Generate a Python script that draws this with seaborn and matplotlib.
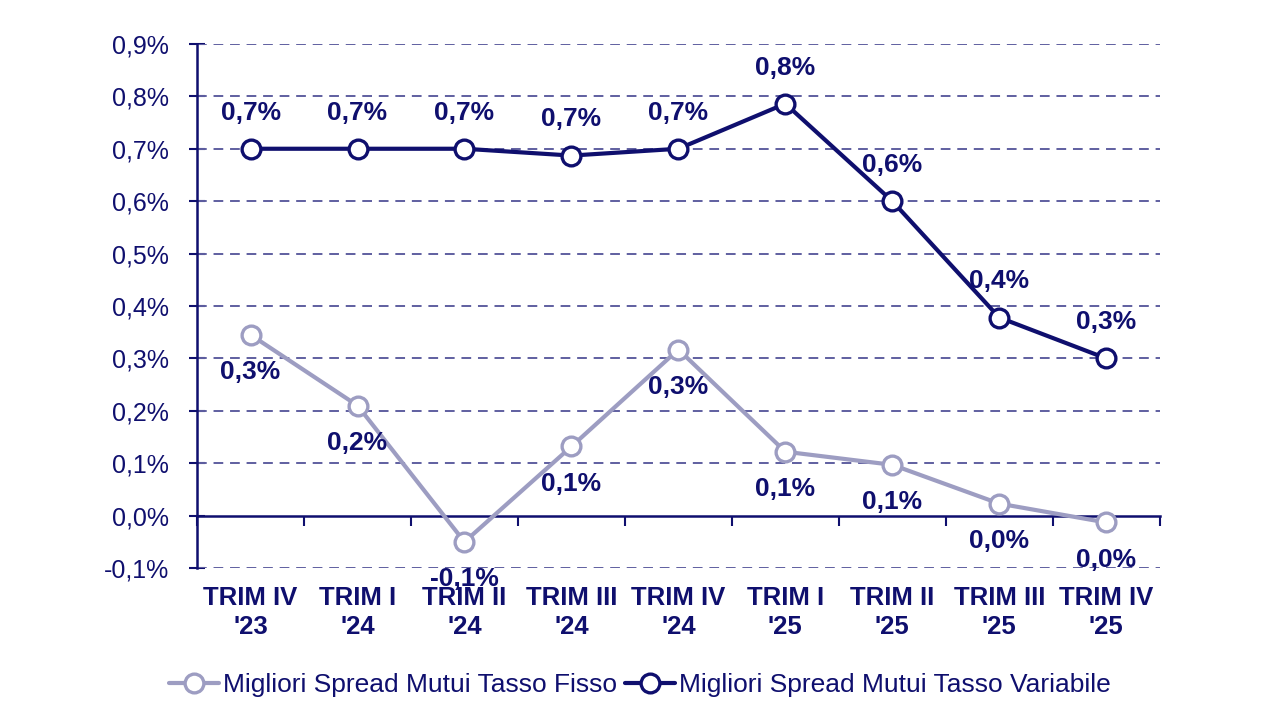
import pandas as pd
import matplotlib.pyplot as plt
import numpy as np
import seaborn as sns

# Trimestri e valori (%)
periodi = ["TRIM IV\n'23", "TRIM I\n'24", "TRIM II\n'24", "TRIM III\n'24", "TRIM IV\n'24",
           "TRIM I\n'25", "TRIM II\n'25", "TRIM III\n'25", "TRIM IV\n'25"]
spread_fisso = [0.345, 0.21, -0.05, 0.132, 0.317, 0.122, 0.097, 0.023, -0.013]
spread_variabile = [0.70, 0.70, 0.70, 0.687, 0.70, 0.786, 0.60, 0.378, 0.30]
nome_fisso = "Migliori Spread Mutui Tasso Fisso"
nome_variabile = "Migliori Spread Mutui Tasso Variabile"
y_ticks = [-0.1, 0.0, 0.1, 0.2, 0.3, 0.4, 0.5, 0.6, 0.7, 0.8, 0.9]

navy = "#0f0f6e"
lavanda = "#9d9dc2"
griglia = "#5f5fa0"

df = pd.DataFrame({
    "pos": list(range(len(periodi))) * 2,
    "valore": spread_fisso + spread_variabile,
    "serie": [nome_fisso] * len(periodi) + [nome_variabile] * len(periodi),
})

sns.set_theme(style="white")
plt.rcParams['font.family'] = ['Liberation Sans', 'DejaVu Sans']

fig = plt.figure(figsize=(12.8, 7.2), dpi=100)
ax = fig.add_axes([0.154, 0.211, 0.752, 0.728])

sns.lineplot(data=df, x="pos", y="valore", hue="serie",
             palette={nome_fisso: lavanda, nome_variabile: navy},
             hue_order=[nome_fisso, nome_variabile],
             marker="o", markersize=13.5, markerfacecolor="white",
             markeredgewidth=2.4, linewidth=3, ax=ax, zorder=3)
for line in ax.get_lines():
    line.set_markeredgecolor(line.get_color())

ax.set_xlim(-0.5, len(periodi) - 0.5)
ax.set_ylim(-0.1, 0.9)

# griglia tratteggiata
for y in y_ticks:
    if y != 0:
        ax.axhline(y, color=griglia, lw=1.4, ls=(0, (5, 3.5)), zorder=1)

# asse y
for s in ["top", "right", "bottom"]:
    ax.spines[s].set_visible(False)
ax.spines["left"].set_color(navy)
ax.spines["left"].set_linewidth(1.8)
ax.set_yticks(y_ticks)
ax.set_yticklabels([f"{v:.1f}%".replace(".", ",") for v in y_ticks],
                   color=navy, fontsize=18)
ax.tick_params(axis="y", direction="inout", length=12, width=1.5, color=navy, pad=14, left=True)

# etichette asse x
ax.set_xticks(range(len(periodi)))
ax.set_xticklabels(periodi, color=navy, fontsize=18.5, fontweight="bold", linespacing=1.25)
ax.tick_params(axis="x", length=0, pad=13)
ax.set_xlabel("")
ax.set_ylabel("")

# linea dello zero con tacche tra le categorie
zero_ax = ax.secondary_xaxis(0.1)
zero_ax.spines["bottom"].set_color(navy)
zero_ax.spines["bottom"].set_linewidth(1.8)
zero_ax.set_xticks(np.arange(-0.5, len(periodi), 1.0))
zero_ax.set_xticklabels([])
zero_ax.tick_params(axis="x", direction="out", length=7, width=1.5, color=navy)

# etichette dei valori
def fmt(v):
    r = round(v, 1)
    if r == 0:
        r = 0.0
    return f"{r:.1f}%".replace(".", ",").replace("-0,0", "0,0")

for i, v in enumerate(spread_variabile):
    ax.annotate(fmt(v), (i, v), xytext=(0, 26), textcoords="offset points",
                ha="center", va="center", color=navy, fontsize=19, fontweight="bold", zorder=4)
for i, v in enumerate(spread_fisso):
    ax.annotate(fmt(v), (i, v), xytext=(0, -27), textcoords="offset points",
                ha="center", va="center", color=navy, fontsize=19, fontweight="bold", zorder=4)

ax.get_legend().remove()
handles, labels = ax.get_legend_handles_labels()
leg = fig.legend(handles, labels, loc="center", bbox_to_anchor=(0.5, 0.048), ncol=2,
                 frameon=False, fontsize=19, handlelength=1.9, handletextpad=0.15,
                 columnspacing=0.3)
for t in leg.get_texts():
    t.set_color(navy)

fig.savefig("out.png", dpi=100)
plt.close()
